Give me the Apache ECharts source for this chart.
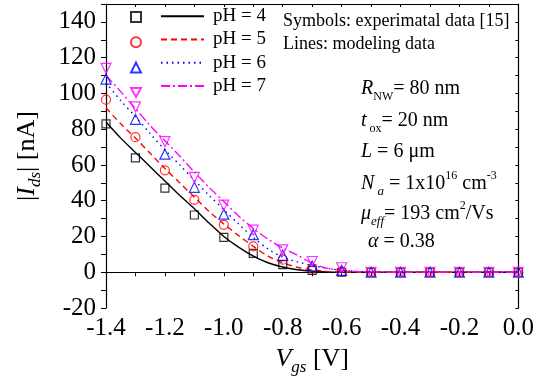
<!DOCTYPE html>
<html>
<head>
<meta charset="UTF-8">
<script src="https://cdn.jsdelivr.net/npm/echarts@6/dist/echarts.min.js"></script>
<style>
  html, body { margin: 0; padding: 0; background: #fff; }
  #main { width: 537px; height: 385px; }
</style>
</head>
<body>
<div id="main"></div>
<script>
// measured points (symbols)
var vgsExp = [-1.4, -1.3, -1.2, -1.1, -1.0, -0.9, -0.8, -0.7, -0.6, -0.5, -0.4, -0.3, -0.2, -0.1, 0.0];
var exp4 = [83, 64, 47, 32, 19.5, 10.5, 4.2, 1, 0, 0, 0, 0, 0, 0, 0];
var exp5 = [96.5, 75.5, 57, 40.5, 26.5, 14.5, 7, 2, 0.3, 0, 0, 0, 0, 0, 0];
var exp6 = [108, 85.5, 66, 47.5, 32.5, 21, 9.5, 3.5, 1, 0, 0, 0, 0, 0, 0];
var exp7 = [114, 92.5, 73, 53, 37.5, 23.5, 12.5, 6, 2.5, 0, 0, 0, 0, 0, 0];

// modeled curves (lines)
var vgsModel = [-1.4, -1.35, -1.3, -1.25, -1.2, -1.15, -1.1, -1.05, -1.0, -0.95, -0.9, -0.85, -0.8, -0.75, -0.7,
  -0.65, -0.6, -0.55, -0.5, -0.45, -0.4, -0.35, -0.3, -0.25, -0.2, -0.15, -0.1, -0.05, 0.0];
var model4 = [84, 75, 67, 59, 51, 43, 35.5, 27.5, 20, 14, 9, 5.3, 2.9, 1.4, 0.6,
  0.2, 0.05, 0, 0, 0, 0, 0, 0, 0, 0, 0, 0, 0, 0];
var model5 = [92, 83, 75, 66.5, 58, 50, 42, 34, 27, 20.5, 14.5, 9, 5.3, 2.8, 1.3,
  0.5, 0.15, 0.05, 0, 0, 0, 0, 0, 0, 0, 0, 0, 0, 0];
var model6 = [106, 96, 87, 77.5, 68.5, 60, 51.5, 43, 35, 27, 19.5, 13, 8.5, 5.8, 3.8,
  2.2, 1.1, 0.5, 0.2, 0.05, 0, 0, 0, 0, 0, 0, 0, 0, 0];
var model7 = [110, 101, 91.5, 82, 73.5, 65, 56, 47.5, 39.5, 31.5, 24.5, 18.5, 13.5, 9.5, 5,
  2.3, 1.2, 0.5, 0.2, 0.05, 0, 0, 0, 0, 0, 0, 0, 0, 0];

var phNames = ['pH = 4', 'pH = 5', 'pH = 6', 'pH = 7'];
var colors = ['#000000', '#ff0000', '#0000ff', '#ff00ff'];

var FONT = 'Liberation Serif';

function pairs(xs, ys) {
  return xs.map(function (x, i) { return [x, ys[i]]; });
}

var chart = echarts.init(document.getElementById('main'));

var lineTypes = ['solid', [6, 4], [1.5, 4], [9, 3, 2, 3]];
var models = [model4, model5, model6, model7];
var exps = [exp4, exp5, exp6, exp7];
var symbols = ['rect', 'circle', 'triangle', 'triangle'];
var rotates = [0, 0, 0, 180];
var sizes = [8, 9, 10, 10];

var series = [];
models.forEach(function (m, i) {
  series.push({
    name: phNames[i],
    type: 'line',
    smooth: 0.3,
    symbol: 'none',
    data: pairs(vgsModel, m),
    lineStyle: { color: colors[i], width: 1.4, type: lineTypes[i] },
    itemStyle: { color: colors[i] },
    z: 2
  });
});
exps.forEach(function (e, i) {
  series.push({
    name: 'exp' + i,
    type: 'scatter',
    symbol: symbols[i],
    symbolRotate: rotates[i],
    symbolSize: sizes[i],
    data: pairs(vgsExp, e),
    itemStyle: { color: 'rgba(255,255,255,0)', borderColor: colors[i], borderWidth: 1.2 },
    z: 3
  });
});

var rich = {
  n: { fontFamily: FONT, fontSize: 20, lineHeight: 28, color: '#000' },
  i: { fontFamily: FONT, fontSize: 20, lineHeight: 28, fontStyle: 'italic', color: '#000' },
  sub: { fontFamily: FONT, fontSize: 12, lineHeight: 12, verticalAlign: 'bottom', color: '#000' },
  isub: { fontFamily: FONT, fontSize: 13, lineHeight: 12, verticalAlign: 'bottom', fontStyle: 'italic', color: '#000' },
  sup: { fontFamily: FONT, fontSize: 12, lineHeight: 14, verticalAlign: 'top', color: '#000' }
};

function txt(left, top, text) {
  return {
    type: 'text', left: left, top: top,
    style: { text: text, rich: rich, fill: '#000' }
  };
}

var axisNameRich = {
  n: { fontFamily: FONT, fontSize: 26, lineHeight: 34, color: '#000' },
  i: { fontFamily: FONT, fontSize: 26, lineHeight: 34, fontStyle: 'italic', color: '#000' },
  isub: { fontFamily: FONT, fontSize: 17, lineHeight: 16, fontStyle: 'italic', verticalAlign: 'bottom', color: '#000' }
};

var option = {
  animation: false,
  backgroundColor: '#fff',
  grid: { left: 106, right: 17, top: 4, bottom: 77 },
  legend: [{
    orient: 'vertical',
    left: 160, top: 4.5, padding: 0,
    itemWidth: 43, itemHeight: 14, itemGap: 0,
    selectedMode: false,
    data: phNames,
    itemStyle: { color: 'rgba(0,0,0,0)', borderColor: 'rgba(0,0,0,0)', borderWidth: 0 },
    textStyle: { fontFamily: FONT, fontSize: 19, lineHeight: 23.3, color: '#000', padding: [0, 0, 0, 4] }
  }, {
    orient: 'vertical',
    left: 130, top: 11, padding: 0,
    itemWidth: 10, itemHeight: 10, itemGap: 13.3,
    selectedMode: false,
    data: ['exp0', 'exp1', 'exp2', { name: 'exp3', icon: 'path://M0,0L10,0L5,9Z' }],
    formatter: function () { return ''; },
    textStyle: { fontSize: 1 }
  }],
  xAxis: [{
    type: 'value', min: -1.4, max: 0, interval: 0.1,
    position: 'bottom',
    name: '{i|V}{isub|gs}{n| [V]}',
    nameLocation: 'middle', nameGap: 31,
    nameTextStyle: { rich: axisNameRich },
    axisLine: { lineStyle: { color: '#000', width: 1.2 } },
    axisTick: { inside: false, length: 4, lineStyle: { color: '#000' } },
    axisLabel: {
      margin: 8, color: '#000', fontFamily: FONT, fontSize: 25,
      formatter: function (v) {
        var k = Math.round(v * 10);
        return (k % 2 === 0) ? (k / 10).toFixed(1) : '';
      }
    },
    splitLine: { show: false }
  }, {
    type: 'value', min: -1.4, max: 0, interval: 0.1,
    position: 'top',
    axisLine: { onZero: false, lineStyle: { color: '#000', width: 1.2 } },
    axisTick: { inside: true, length: 3, lineStyle: { color: '#000' } },
    axisLabel: { show: false },
    splitLine: { show: false }
  }],
  yAxis: [{
    type: 'value', min: -20, max: 150, interval: 10,
    position: 'left',
    name: '{n||}{i|I}{isub|ds}{n|| [nA]}',
    nameLocation: 'middle', nameGap: 62,
    nameTextStyle: { rich: axisNameRich },
    axisLine: { onZero: false, lineStyle: { color: '#000', width: 1.2 } },
    axisTick: { inside: false, length: 5, lineStyle: { color: '#000' } },
    axisLabel: {
      margin: 10, color: '#000', fontFamily: FONT, fontSize: 25,
      formatter: function (v) {
        if (v > 140) return '';
        return (Math.round(v) % 20 === 0) ? String(v) : '';
      }
    },
    splitLine: { show: false }
  }, {
    type: 'value', min: -20, max: 150, interval: 10,
    position: 'right',
    axisLine: { onZero: false, lineStyle: { color: '#000', width: 1.2 } },
    axisTick: { inside: true, length: 3, lineStyle: { color: '#000' } },
    axisLabel: { show: false },
    splitLine: { show: false }
  }],
  graphic: [
    { type: 'text', left: 283, top: 12, style: { text: 'Symbols: experimatal data [15]', font: '18px ' + FONT, fill: '#000' } },
    { type: 'text', left: 283, top: 35, style: { text: 'Lines: modeling data', font: '18px ' + FONT, fill: '#000' } },
    txt(361, 79, '{i|R}{sub|NW}{n|= 80 nm}'),
    txt(361, 111, '{i|t}{sub| ox}{n|= 20 nm}'),
    txt(361, 142, '{i|L}{n| = 6 μm}'),
    txt(361, 170, '{i|N}{isub| a}{n| = 1x10}{sup|16}{n| cm}{sup|-3}'),
    txt(361, 200, '{i|μ}{isub|eff}{n|= 193 cm}{sup|2}{n|/Vs}'),
    txt(368, 232, '{i|α}{n| = 0.38}')
  ],
  series: series
};

chart.setOption(option);
</script>
</body>
</html>
